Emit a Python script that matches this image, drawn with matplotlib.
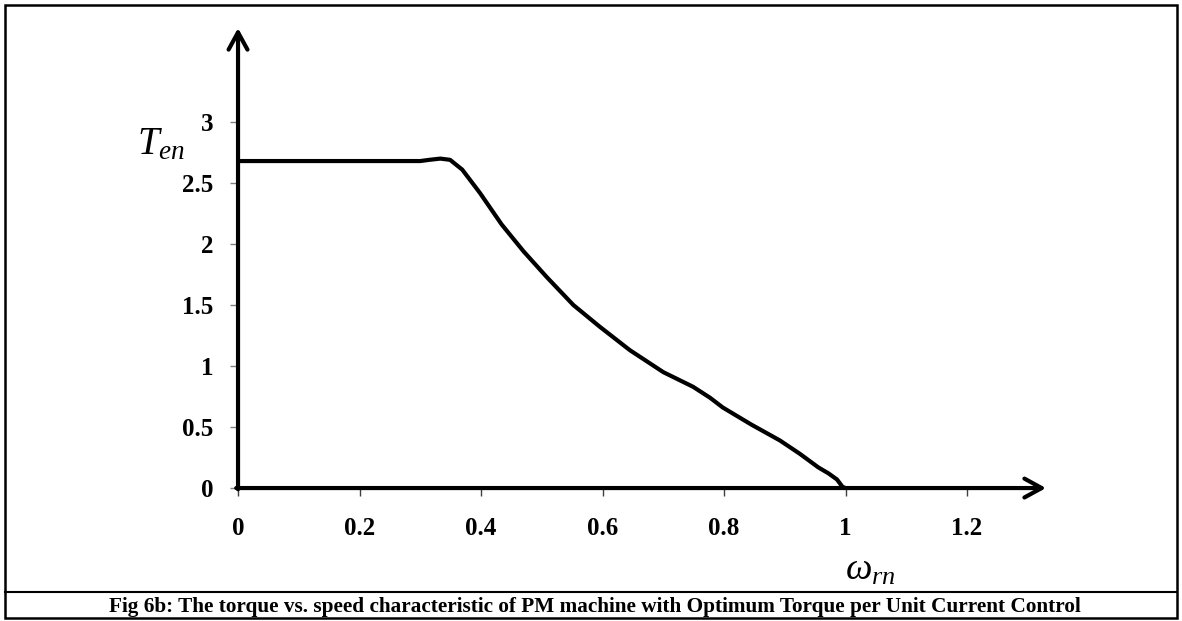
import numpy as np
import matplotlib.pyplot as plt
from matplotlib.patches import Rectangle
from matplotlib.lines import Line2D

plt.rcParams['font.family'] = 'Liberation Serif'
plt.rcParams['mathtext.fontset'] = 'custom'
plt.rcParams['mathtext.it'] = 'Liberation Serif:italic'
plt.rcParams['mathtext.rm'] = 'Liberation Serif'

# normalised speed vs normalised torque
w_rn = [0.0, 0.30, 0.315, 0.333, 0.349, 0.369, 0.398, 0.434, 0.470, 0.508, 0.552,
        0.596, 0.645, 0.700, 0.749, 0.777, 0.798, 0.845, 0.892, 0.925, 0.955,
        0.972, 0.986, 0.995, 1.0]
T_en = [2.68, 2.68, 2.69, 2.70, 2.69, 2.61, 2.42, 2.16, 1.94, 1.73, 1.50,
        1.32, 1.13, 0.95, 0.83, 0.74, 0.66, 0.52, 0.39, 0.28, 0.17,
        0.12, 0.07, 0.01, 0.0]

xticks = [0, 0.2, 0.4, 0.6, 0.8, 1.0, 1.2]
xlabels = ['0', '0.2', '0.4', '0.6', '0.8', '1', '1.2']
yticks = [0, 0.5, 1, 1.5, 2, 2.5, 3]
ylabels = ['0', '0.5', '1', '1.5', '2', '2.5', '3']

fig = plt.figure(figsize=(11.82, 6.21), dpi=100)
ax = fig.add_axes([200/1182, 121/621, 880/1182, 480/621])
ax.set_xlim(-0.0626, 1.386)
ax.set_ylim(-0.098, 3.836)

for s in ax.spines.values():
    s.set_visible(False)
ax.spines['left'].set_position(('data', 0))
ax.spines['bottom'].set_position(('data', 0))

ax.set_xticks(xticks)
ax.set_xticklabels(xlabels, fontsize=18, fontweight='bold')
ax.set_yticks(yticks)
ax.set_yticklabels(ylabels, fontsize=18, fontweight='bold')
ax.tick_params(axis='x', direction='out', length=6, width=1, color='#404040', pad=15)
ax.tick_params(axis='y', direction='out', length=6, width=1, color='#808080', pad=12)

# axes with arrow heads
arrow = dict(arrowstyle='->, head_length=0.62, head_width=0.34', lw=3,
             color='black', mutation_scale=20, shrinkA=0, shrinkB=0)
ax.annotate('', xy=(0, 3.77), xytext=(0, -0.01), arrowprops=arrow)
ax.annotate('', xy=(1.33, 0), xytext=(-0.003, 0), arrowprops=arrow)

ax.plot(w_rn, T_en, color='black', lw=3, solid_capstyle='round',
        solid_joinstyle='round')

fig.text(137/1182, 1 - 145/621, r'$T_{en}$', fontsize=28, va='center', ha='left')
fig.text(845/1182, 1 - 570/621, r'$\omega_{rn}$', fontsize=27, va='center', ha='left')

# frame and caption
fig.patches.append(Rectangle((5/1182, 3/621), 1172/1182, 613/621, transform=fig.transFigure,
                             fill=False, lw=1.8, edgecolor='black'))
fig.lines.append(Line2D([5/1182, 1177/1182], [1 - 592/621, 1 - 592/621],
                        transform=fig.transFigure, lw=1.5, color='black'))
fig.text(595/1182, 1 - 607/621, 'Fig 6b: The torque vs. speed characteristic of PM machine with '
         'Optimum Torque per Unit Current Control', fontsize=15.3, fontweight='bold',
         ha='center', va='center')

fig.savefig('out.png', dpi=100)
